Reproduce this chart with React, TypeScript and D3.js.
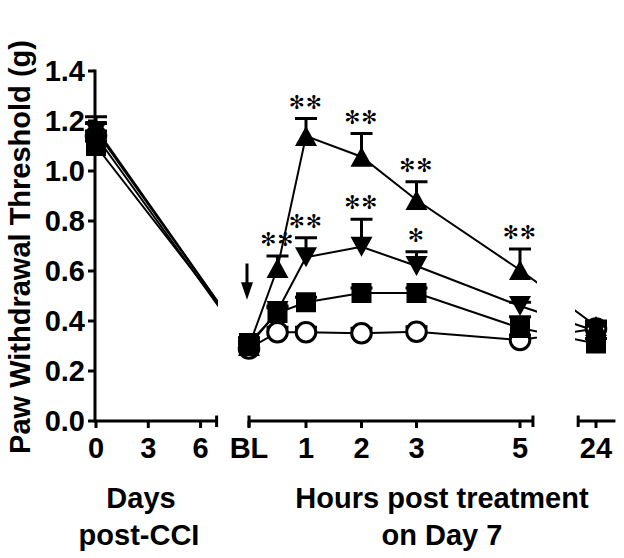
import React from 'react';
import * as d3 from 'd3';

// ---------- data ----------
const dayTicks = [0, 3, 6];
const dayTickLabels = ['0', '3', '6'];
const hourTicks = [0, 1, 2, 3, 5];
const hourTickLabels = ['BL', '1', '2', '3', '5'];
const lateTicks = [24];
const lateTickLabels = ['24'];
const yTicks = [0, 0.2, 0.4, 0.6, 0.8, 1.0, 1.2, 1.4];

// time points: day 0 post-CCI, then hours post treatment on day 7 (BL = 0 h), then 24 h
const pointSection = ['day', 'hour', 'hour', 'hour', 'hour', 'hour', 'hour', 'late'];
const pointTime = [0, 0, 0.5, 1, 2, 3, 5, 24];

const circleVals = [1.14, 0.29, 0.355, 0.355, 0.351, 0.357, 0.324, 0.37];
const circleSem = [0.02, 0.02, 0.02, 0.02, 0.02, 0.02, 0.02, 0.02];
const squareVals = [1.10, 0.312, 0.432, 0.475, 0.512, 0.512, 0.372, 0.31];
const squareSem = [0.02, 0.02, 0.02, 0.02, 0.02, 0.02, 0.045, 0.02];
const invTriVals = [1.16, 0.30, 0.44, 0.655, 0.697, 0.62, 0.46, 0.36];
const invTriSem = [0.03, 0.02, 0.02, 0.078, 0.11, 0.057, 0.015, 0.02];
const triVals = [1.17, 0.30, 0.612, 1.14, 1.057, 0.884, 0.604, 0.38];
const triSem = [0.047, 0.02, 0.048, 0.07, 0.093, 0.073, 0.084, 0.02];

const triStars = ['', '', '**', '**', '**', '**', '**', ''];
const invTriStars = ['', '', '', '**', '**', '*', '', ''];

// ---------- layout ----------
const W = 624;
const H = 558;
const FONT = "'Liberation Sans', Arial, Helvetica, sans-serif";

const y = d3.scaleLinear().domain([0, 1.4]).range([421, 71]);
const xDay = d3.scaleLinear().domain([0, 7]).range([96, 218]);
const xHour = d3.scaleLinear().domain([0, 1, 2, 3, 5]).range([249, 306, 361.5, 416.5, 520]);
const xLate = d3.scaleLinear().domain([24, 25]).range([596, 650]);

const xPos = (i: number) => {
  const s = pointSection[i];
  const t = pointTime[i];
  return s === 'day' ? xDay(t) : s === 'hour' ? xHour(t) : xLate(t);
};

const idx = pointTime.map((_, i) => i);

type Shape = 'circle' | 'square' | 'tri' | 'inv';
const series: { shape: Shape; vals: number[]; sem: number[]; stars?: string[] }[] = [
  { shape: 'circle', vals: circleVals, sem: circleSem },
  { shape: 'tri', vals: triVals, sem: triSem, stars: triStars },
  { shape: 'inv', vals: invTriVals, sem: invTriSem, stars: invTriStars },
  { shape: 'square', vals: squareVals, sem: squareSem },
];

const markerPath = (shape: Shape, cx: number, cy: number) => {
  if (shape === 'square') return `M${cx - 10},${cy - 10}h20v20h-20Z`;
  if (shape === 'tri') return `M${cx - 11},${cy + 10}L${cx + 11},${cy + 10}L${cx},${cy - 10}Z`;
  if (shape === 'inv') return `M${cx - 11},${cy - 10}L${cx + 11},${cy - 10}L${cx},${cy + 10}Z`;
  return '';
};

const clips = [
  { id: 'c1', x0: 0, x1: 218 },
  { id: 'c2', x0: 244, x1: 537 },
  { id: 'c3', x0: 575, x1: 624 },
];

export default function App() {
  const line = d3
    .line<number>()
    .x((i) => xPos(i));

  const axisY = y(0);
  const segs = [
    { x0: 95, x1: xDay(6.92), startCap: false, endCap: true, ticks: dayTicks.map((t) => xDay(t)), labels: dayTickLabels },
    { x0: xHour(0), x1: xHour(5.25), startCap: true, endCap: true, ticks: hourTicks.map((t) => xHour(t)), labels: hourTickLabels },
    { x0: xLate(23.67), x1: xLate(24.36), startCap: true, endCap: false, ticks: lateTicks.map((t) => xLate(t)), labels: lateTickLabels },
  ];

  return (
    <svg width={W} height={H} style={{ position: 'absolute', left: 0, top: 0, background: '#fff' }}>
      <defs>
        {clips.map((c) => (
          <clipPath id={c.id} key={c.id}>
            <rect x={c.x0} y={0} width={c.x1 - c.x0} height={H} />
          </clipPath>
        ))}
      </defs>
      <rect x={0} y={0} width={W} height={H} fill="#fff" />

      {/* connecting lines */}
      {series.map((s, si) =>
        clips.map((c) => (
          <path
            key={`l${si}${c.id}`}
            d={line.y((i) => y(s.vals[i]))(idx) || ''}
            fill="none"
            stroke="#000"
            strokeWidth={2}
            clipPath={`url(#${c.id})`}
          />
        ))
      )}

      {/* error bars + markers */}
      {series.map((s, si) => (
        <g key={`m${si}`}>
          {idx.map((i) => {
            const cx = xPos(i);
            const cy = y(s.vals[i]);
            const top = y(s.vals[i] + s.sem[i]);
            return (
              <g key={i}>
                <line x1={cx} x2={cx} y1={cy} y2={top} stroke="#000" strokeWidth={3} />
                <line x1={cx - 11} x2={cx + 11} y1={top} y2={top} stroke="#000" strokeWidth={3} />
                {s.shape === 'circle' ? (
                  <circle cx={cx} cy={cy} r={9.8} fill="#fff" stroke="#000" strokeWidth={3} />
                ) : (
                  <path d={markerPath(s.shape, cx, cy)} fill="#000" />
                )}
                {s.stars && s.stars[i] ? (
                  <text
                    x={cx}
                    y={top - 16.5}
                    dy="0.35em"
                    textAnchor="middle"
                    fontFamily="'DejaVu Sans', sans-serif"
                    fontSize={19}
                    letterSpacing={1}
                    fill="#000"
                  >
                    {s.stars[i].replace(/\*/g, '\u273B')}
                  </text>
                ) : null}
              </g>
            );
          })}
        </g>
      ))}

      {/* treatment arrow at BL */}
      <line x1={xHour(0) - 2} x2={xHour(0) - 2} y1={y(0.63)} y2={y(0.52)} stroke="#000" strokeWidth={3} />
      <path
        d={`M${xHour(0) - 8},${y(0.555)}L${xHour(0) + 4},${y(0.555)}L${xHour(0) - 2},${y(0.485)}Z`}
        fill="#000"
      />

      {/* y axis */}
      <line x1={95} x2={95} y1={axisY + 1.5} y2={y(1.4) - 1.5} stroke="#000" strokeWidth={3} />
      {yTicks.map((v) => (
        <g key={v}>
          <line x1={88} x2={95} y1={y(v)} y2={y(v)} stroke="#000" strokeWidth={3} />
          <text
            x={85}
            y={y(v)}
            dy="0.36em"
            textAnchor="end"
            fontFamily={FONT}
            fontWeight="bold"
            fontSize={29}
            fill="#000"
          >
            {d3.format('.1f')(v)}
          </text>
        </g>
      ))}
      <text
        transform={`translate(30,${247}) rotate(-90)`}
        textAnchor="middle"
        fontFamily={FONT}
        fontWeight="bold"
        fontSize={29}
        fill="#000"
      >
        Paw Withdrawal Threshold (g)
      </text>

      {/* x axis segments */}
      {segs.map((sg, k) => (
        <g key={k}>
          <line x1={sg.x0} x2={sg.x1} y1={axisY} y2={axisY} stroke="#000" strokeWidth={3} />
          {sg.startCap ? <line x1={sg.x0} x2={sg.x0} y1={axisY - 5.5} y2={axisY + 6} stroke="#000" strokeWidth={3} /> : null}
          {sg.endCap ? <line x1={sg.x1} x2={sg.x1} y1={axisY - 5.5} y2={axisY + 6} stroke="#000" strokeWidth={3} /> : null}
          {sg.ticks.map((tx, j) => (
            <g key={j}>
              <line x1={tx} x2={tx} y1={axisY} y2={axisY + 7} stroke="#000" strokeWidth={3} />
              <text x={tx} y={458} textAnchor="middle" fontFamily={FONT} fontWeight="bold" fontSize={29} fill="#000">
                {sg.labels[j]}
              </text>
            </g>
          ))}
        </g>
      ))}

      {/* axis titles */}
      <g fontFamily={FONT} fontWeight="bold" fontSize={29} fill="#000" textAnchor="middle">
        <text x={141} y={508}>Days</text>
        <text x={139} y={545}>post-CCI</text>
        <text x={442} y={508}>Hours post treatment</text>
        <text x={442} y={545}>on Day 7</text>
      </g>
    </svg>
  );
}
